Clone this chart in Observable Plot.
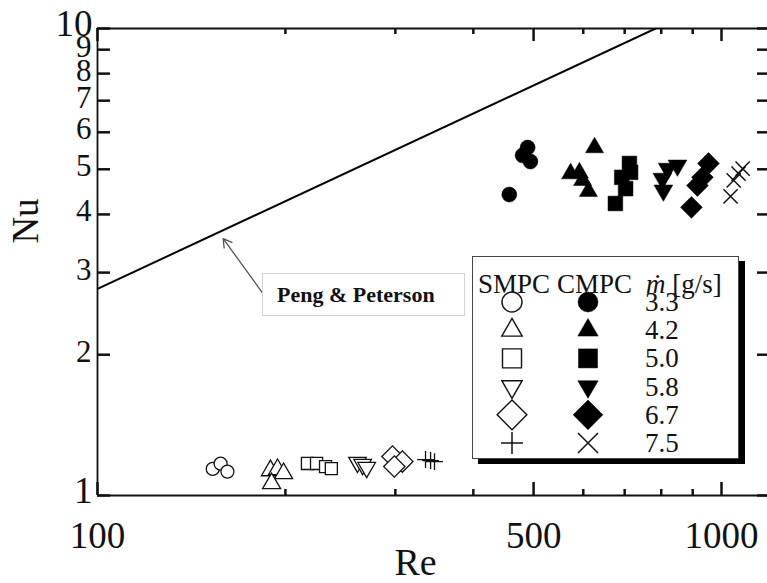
<!DOCTYPE html>
<html><head><meta charset="utf-8">
<script src="https://cdn.jsdelivr.net/npm/d3@7"></script>
<script src="https://cdn.jsdelivr.net/npm/@observablehq/plot@0.6"></script>
<style>
body{margin:0;background:#fff;}
#wrap{position:relative;width:767px;height:583px;overflow:hidden;font-family:"Liberation Serif","Times New Roman",serif;}
#annot{position:absolute;left:262px;top:273px;width:203px;height:43px;box-sizing:border-box;border:1px solid #d4d4d4;background:#fff;font-weight:bold;font-size:22px;line-height:41px;padding-left:14px;color:#111;white-space:nowrap;}
#legend{position:absolute;left:472px;top:256px;width:267px;height:203px;box-sizing:border-box;border:1.5px solid #444;background:#fff;box-shadow:6px 5px 0 #000;}
#legend svg{position:absolute;left:-1.5px;top:-1.5px;overflow:visible;}
</style></head><body><div id="wrap"></div>
<script>
// ---- data ----
const rates = ["3.3", "4.2", "5.0", "5.8", "6.7", "7.5"];
const smpcRe = [
  [153, 157.5, 161.5],
  [189.3, 194.3, 198.7, 190.1],
  [217, 224.4, 232, 237],
  [261, 266, 270],
  [297, 308, 299],
  [335.5, 341.8, 346.8]
];
const smpcNu = [
  [1.14, 1.17, 1.125],
  [1.131, 1.137, 1.115, 1.061],
  [1.171, 1.171, 1.153, 1.142],
  [1.177, 1.165, 1.148],
  [1.212, 1.182, 1.154],
  [1.194, 1.188, 1.182]
];
const cmpcRe = [
  [457, 489, 480, 494],
  [626, 573, 592, 599, 612],
  [712, 715, 692, 702, 676],
  [850, 820, 804, 807],
  [953, 932, 915, 895],
  [1034, 1046, 1065, 1081]
];
const cmpcNu = [
  [4.41, 5.56, 5.35, 5.19],
  [5.56, 4.89, 4.91, 4.73, 4.48],
  [5.14, 4.92, 4.80, 4.54, 4.22],
  [5.09, 5.01, 4.77, 4.50],
  [5.14, 4.80, 4.61, 4.14],
  [4.37, 4.73, 4.89, 5.01]
];
const pengRe = [100, 784];
const pengNu = [2.77, 10];
const arrowFrom = {re: 184, nu: 2.71};
const arrowTo = {re: 159, nu: 3.55};
const xMajorTicks = [100, 500, 1000];
const xMinorTicks = [200, 300, 400, 600, 700, 800, 900];
const yTicks = [1, 2, 3, 4, 5, 6, 7, 8, 9, 10];
const yMidLabels = [2, 3, 4, 5, 6, 7, 8, 9];
const yEndLabels = [1, 10];

// ---- styles ----
const FONT = '"Liberation Serif","Times New Roman",serif';
const AX = "#111";
const MT = 28, MB = 88, ML = 97, MR = 0, W = 767, H = 583;
const FH = H - MT - MB, FW = W - ML - MR; // frame size in px
const sym = [
  {symbol: "circle", rotate: 0, rOpen: 6.5, rFill: 7.5},
  {symbol: "triangle", rotate: 0, rOpen: 6.7, rFill: 6.7},
  {symbol: "square", rotate: 0, rOpen: 6.8, rFill: 8.3},
  {symbol: "triangle", rotate: 180, rOpen: 6.5, rFill: 7},
  {symbol: "square", rotate: 45, rOpen: 8.5, rFill: 8.7},
  {symbol: "plus", rotate: 0, rOpen: 5.5, rFill: 6.5, line: true}
];

const rows = (RE, NU) => rates.map((r, i) => RE[i].map((re, j) => ({re, nu: NU[i][j], rate: r})));
const smpc = rows(smpcRe, smpcNu);
const cmpc = rows(cmpcRe, cmpcNu);
const peng = pengRe.map((re, i) => ({re, nu: pengNu[i]}));

const dotMarks = [];
sym.forEach((s, i) => {
  dotMarks.push(Plot.dot(smpc[i], {x: "re", y: "nu", symbol: s.symbol, rotate: s.rotate, r: s.rOpen,
    fill: s.line ? "none" : "white", stroke: "#111", strokeWidth: 1.3}));
});
sym.forEach((s, i) => {
  if (s.line) {
    dotMarks.push(Plot.dot(cmpc[i], {x: "re", y: "nu", symbol: "times", r: s.rFill, fill: "none", stroke: "#111", strokeWidth: 1.5}));
  } else {
    dotMarks.push(Plot.dot(cmpc[i], {x: "re", y: "nu", symbol: s.symbol, rotate: s.rotate, r: s.rFill, fill: "#000", stroke: "#000", strokeWidth: 0.5}));
  }
});

const tickStyle = {stroke: AX, strokeWidth: 2};
const chart = Plot.plot({
  width: W, height: H,
  marginLeft: ML, marginRight: MR, marginTop: MT, marginBottom: MB,
  x: {type: "log", domain: [100, 1185]},
  y: {type: "log", domain: [1, 10]},
  style: {fontFamily: FONT, color: "#111", background: "white", overflow: "visible"},
  marks: [
    Plot.line(peng, {x: "re", y: "nu", stroke: "#000", strokeWidth: 2, clip: true}),
    Plot.arrow([0], {x1: () => arrowFrom.re, y1: () => arrowFrom.nu, x2: () => arrowTo.re, y2: () => arrowTo.nu,
      stroke: "#555", strokeWidth: 1.3, headLength: 11}),
    ...dotMarks,
    // frame lines
    Plot.ruleY([1], {stroke: AX, strokeWidth: 1.8}),
    Plot.ruleY([10], {stroke: AX, strokeWidth: 1.8}),
    Plot.ruleX([100], {stroke: AX, strokeWidth: 1.8}),
    // inward ticks (bottom, top, left, right)
    Plot.tickX(xMajorTicks, {x: d => d, insetTop: FH - 13, ...tickStyle}),
    Plot.tickX(xMinorTicks, {x: d => d, insetTop: FH - 6, ...tickStyle}),
    Plot.tickX(xMajorTicks, {x: d => d, insetBottom: FH - 13, ...tickStyle}),
    Plot.tickX(xMinorTicks, {x: d => d, insetBottom: FH - 6, ...tickStyle}),
    Plot.tickY(yTicks, {y: d => d, insetRight: FW - 13, ...tickStyle}),
    Plot.tickY(yTicks, {y: d => d, insetLeft: FW - 10, ...tickStyle}),
    // labels
    Plot.axisX({ticks: xMajorTicks, anchor: "bottom", tickSize: 0, tickPadding: 26, tickFormat: d => String(d), fontSize: 37, label: null}),
    Plot.axisY({ticks: yMidLabels, anchor: "left", tickSize: 0, tickPadding: 6, tickFormat: d => String(d), fontSize: 31, dy: -3, label: null}),
    Plot.axisY({ticks: yEndLabels, anchor: "left", tickSize: 0, tickPadding: 5, tickFormat: d => String(d), fontSize: 37, dy: -4, label: null}),
    Plot.text(["Re"], {frameAnchor: "bottom", lineAnchor: "middle", textAnchor: "middle", dx: -17, dy: 67, fontSize: 38, fill: "#111"}),
    Plot.text(["Nu"], {frameAnchor: "left", lineAnchor: "middle", textAnchor: "middle", dx: -71, dy: -41, rotate: -90, fontSize: 37, fill: "#111"})
  ]
});

const wrap = document.getElementById("wrap");
wrap.appendChild(chart);

// reinforce inward ticks on top, positioned through the chart's own scales
const sx = chart.scale("x"), sy = chart.scale("y");
const tg = d3.select(chart).append("g").attr("stroke", AX).attr("stroke-width", 2).attr("fill", "none");
const yBot = sy.apply(1), yTop = sy.apply(10), xLeft = sx.apply(100), xRight = W - MR;
[[xMajorTicks, 13], [xMinorTicks, 6]].forEach(([vals, len]) => vals.forEach(v => {
  const x = Math.round(sx.apply(v)) + 0.5;
  tg.append("line").attr("x1", x).attr("x2", x).attr("y1", yBot).attr("y2", yBot - len);
  tg.append("line").attr("x1", x).attr("x2", x).attr("y1", yTop).attr("y2", yTop + len);
}));
yTicks.forEach(v => {
  const y = Math.round(sy.apply(v)) + 0.5;
  tg.append("line").attr("x1", xLeft).attr("x2", xLeft + 13).attr("y1", y).attr("y2", y);
  tg.append("line").attr("x1", xRight).attr("x2", xRight - 10).attr("y1", y).attr("y2", y);
});

// annotation label box
const ann = document.createElement("div");
ann.id = "annot";
ann.textContent = "Peng & Peterson";
wrap.appendChild(ann);

// legend box
const leg = document.createElement("div");
leg.id = "legend";
wrap.appendChild(leg);
const ls = d3.select(leg).append("svg").attr("width", 267).attr("height", 203)
  .style("font-family", FONT).style("font-size", "27px").style("fill", "#111");
ls.append("text").attr("x", 6).attr("y", 37).text("SMPC");
ls.append("text").attr("x", 85).attr("y", 37).text("CMPC");
const h = ls.append("text").attr("x", 174).attr("y", 37);
h.append("tspan").attr("font-style", "italic").text("ṁ");
h.append("tspan").text(" [g/s]");

const legSizes = [
  {type: d3.symbolCircle, size: Math.PI * 100, rot: 0},
  {type: d3.symbolTriangle, size: 180, rot: 0},
  {type: d3.symbolSquare, size: 361, rot: 0},
  {type: d3.symbolTriangle, size: 180, rot: 180},
  {type: d3.symbolSquare, size: 441, rot: 45},
  null
];
rates.forEach((r, i) => {
  const cy = 46 + i * 28.2;
  const s = legSizes[i];
  [[40, false], [116, true]].forEach(([cx, filled]) => {
    const g = ls.append("g").attr("transform", `translate(${cx},${cy})`);
    if (s) {
      g.append("path").attr("d", d3.symbol(s.type, s.size)()).attr("transform", `rotate(${s.rot})`)
        .attr("fill", filled ? "#000" : "white").attr("stroke", filled ? "#000" : "#111").attr("stroke-width", filled ? 0.5 : 1.4);
    } else {
      const p = filled ? "M-10,-10L10,10M-10,10L10,-10" : "M-11,0L11,0M0,-11L0,11";
      g.append("path").attr("d", p).attr("stroke", "#111").attr("stroke-width", 1.5).attr("fill", "none");
    }
  });
  ls.append("text").attr("x", 173).attr("y", cy + 9).text(r);
});
</script>
</body></html>
